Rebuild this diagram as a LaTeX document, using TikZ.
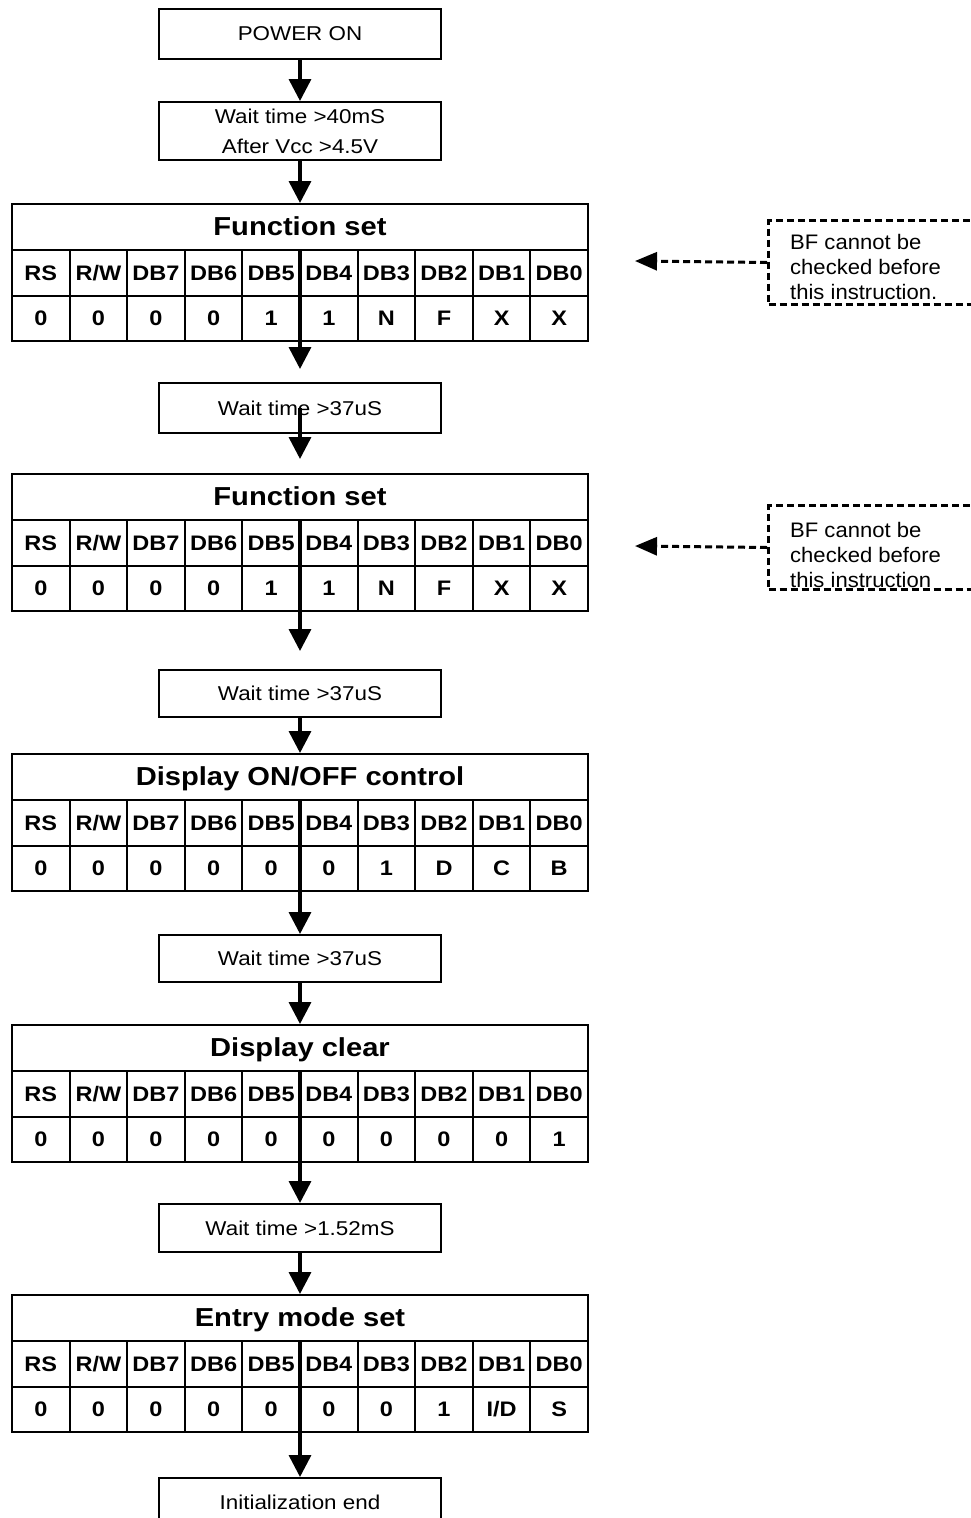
\documentclass[tikz,border=0pt]{standalone}
\usepackage{fontspec}
\setmainfont[FakeStretch=1.12]{Liberation Sans}
\newfontfamily\notefont[FakeStretch=1.05]{Liberation Sans}
\usetikzlibrary{arrows.meta,positioning}

\begin{document}
\begin{tikzpicture}[x=1pt,y=-1pt,
  stepbox/.style={draw,line width=2pt,minimum width=282pt,minimum height=48pt,
    inner sep=0pt,align=center,font=\fontsize{20}{30}\selectfont},
  headcell/.style={draw,line width=2pt,minimum width=576pt,minimum height=46pt,
    inner sep=0pt,text height=18.5pt,text depth=2pt,
    font=\fontsize{26}{28}\selectfont\bfseries},
  bitcell/.style={draw,line width=2pt,minimum width=57.6pt,minimum height=45.5pt,
    inner sep=0pt,text height=15pt,text depth=0pt,
    font=\fontsize{21}{24}\selectfont\bfseries},
  flow/.style={line width=3.5pt,-{Triangle[length=22pt,width=22pt]}},
  note/.style={draw,line width=3pt,dash pattern=on 7pt off 4pt,
    minimum width=240pt,minimum height=84pt,anchor=north west},
  notetext/.style={font=\notefont\fontsize{21}{25}\selectfont,align=left,
    anchor=west,inner sep=0pt},
  backref/.style={line width=3pt,dash pattern=on 7pt off 4pt,
    -{Triangle[length=22pt,width=18pt]}}
]
\useasboundingbox (0,0) rectangle (970,1518);

% the plain steps
\node[stepbox,minimum height=50pt] (power) at (300,34) {POWER ON};
\node[stepbox,minimum height=58pt] (w1) at (300,131) {Wait time >40mS\\After Vcc >4.5V};
\node[stepbox,minimum height=50pt] (w2) at (300,408) {Wait time >37uS};
\node[stepbox,minimum height=47pt] (w3) at (300,693.5) {Wait time >37uS};
\node[stepbox,minimum height=47pt] (w4) at (300,958.5) {Wait time >37uS};
\node[stepbox] (w5) at (300,1228) {Wait time >1.52mS};
\node[stepbox] (done) at (300,1502) {Initialization end};

% the instruction tables
\foreach \tn/\ty/\ttl/\vals in {
    t1/204/{Function set}/{0,0,0,0,1,1,N,F,X,X},
    t2/474/{Function set}/{0,0,0,0,1,1,N,F,X,X},
    t3/754/{Display ON/OFF control}/{0,0,0,0,0,0,1,D,C,B},
    t4/1025/{Display clear}/{0,0,0,0,0,0,0,0,0,1},
    t5/1295/{Entry mode set}/{0,0,0,0,0,0,0,1,{I/D},S}}
{
  \node[headcell] (\tn-h) at (300,\ty+23) {\ttl};
  \foreach \nm [count=\i] in {RS,R/W,DB7,DB6,DB5,DB4,DB3,DB2,DB1,DB0}
    \node[bitcell] (\tn-n\i) at (12+57.6*\i-28.8,\ty+68.75) {\nm};
  \foreach \v [count=\i] in \vals
    \node[bitcell] (\tn-v\i) at (12+57.6*\i-28.8,\ty+114.25) {\v};
}

% the flow
\draw[flow] (power) -- (w1);
\draw[flow] (w1) -- (t1-h);
\draw[flow] (t1-h.south) -- ([yshift=13pt]w2.north);
\draw[flow] (w2.center) -- ([yshift=14pt]t2-h.north);
\draw[flow] (t2-h.south) -- ([yshift=18pt]w3.north);
\draw[flow] (w3) -- (t3-h);
\draw[flow] (t3-h.south) -- (w4);
\draw[flow] (w4) -- (t4-h);
\draw[flow] (t4-h.south) -- (w5);
\draw[flow] (w5) -- (t5-h);
\draw[flow] (t5-h.south) -- (done);

% the notes
\node[note] (n1) at (767,219) {};
\node[notetext] (n1t) at (790,267) {BF cannot be\\checked before\\this instruction.};
\coordinate (f1) at (635,261);
\draw[backref] (n1.west) -- (f1);

\node[note] (n2) at (767,504) {};
\node[notetext] (n2t) at (790,555) {BF cannot be\\checked before\\this instruction};
\coordinate (f2) at (635,546);
\draw[backref] (n2.west) -- (f2);
\end{tikzpicture}
\end{document}
